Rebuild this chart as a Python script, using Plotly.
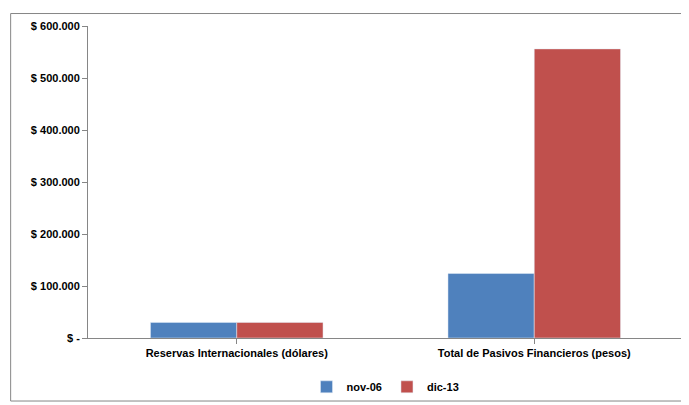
import plotly.graph_objects as go

categories = ["Reservas Internacionales (dólares)", "Total de Pasivos Financieros (pesos)"]
nov06 = [30000, 124000]
dic13 = [30000, 556000]
tick_vals = [0, 100000, 200000, 300000, 400000, 500000, 600000]
tick_text = ["$ -", "$ 100.000", "$ 200.000", "$ 300.000", "$ 400.000", "$ 500.000", "$ 600.000"]

fig = go.Figure()
fig.add_bar(x=categories, y=nov06, name="nov-06", marker_color="#4F81BD")
fig.add_bar(x=categories, y=dic13, name="dic-13", marker_color="#C0504D")

fig.update_layout(
    width=689, height=405,
    margin=dict(l=80, r=14, t=15, b=68),
    plot_bgcolor="white", paper_bgcolor="white",
    barmode="group", bargap=0.42, bargroupgap=0,
    font=dict(family="Liberation Sans", size=11, color="black"),
    legend=dict(orientation="h", x=0.5, xanchor="center", y=-0.11, yanchor="top",
                bgcolor="rgba(0,0,0,0)", font=dict(size=11, weight="bold")),
    xaxis=dict(showline=True, linecolor="#868686", ticks="outside", ticklen=5,
               tickcolor="#868686", tickfont=dict(weight="bold")),
    yaxis=dict(range=[0, 600000], tickvals=tick_vals, ticktext=tick_text,
               showgrid=False, showline=True, linecolor="#868686",
               ticks="outside", ticklen=5, tickcolor="#868686",
               tickfont=dict(weight="bold")),
    shapes=[dict(type="rect", xref="paper", yref="paper", x0=-0.13, y0=-0.202, x1=1.019, y1=1.04,
                 line=dict(color="#868686", width=1))],
)
fig.write_html("out.html")
